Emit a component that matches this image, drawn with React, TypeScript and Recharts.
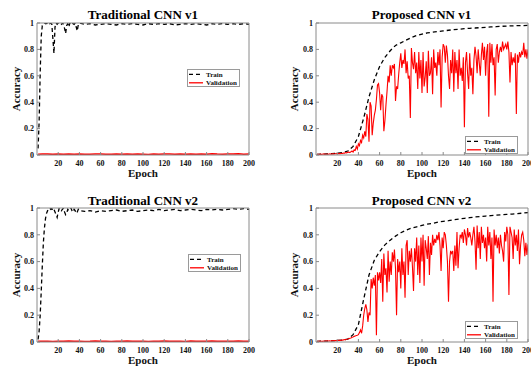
import React from 'react';
import { LineChart, Line, XAxis, YAxis, Legend } from 'recharts';

const FONT = "'Liberation Serif', 'Times New Roman', Times, serif";

// ---------- categories / ticks ----------
const epochs = Array.from({ length: 200 }, (_, i) => i + 1);
const sparseEpochs = [1, 5, 10, 15, 20, 25, 30, 35, 40, 45, 50, 55, 60, 65, 70, 75, 80, 85, 90, 95, 100,
  105, 110, 115, 120, 125, 130, 135, 140, 145, 150, 155, 160, 165, 170, 175, 180, 185, 190, 195, 200];
const lateEpochs = sparseEpochs.slice(9); // 45..200
const earlyEpochs = epochs.slice(0, 40); // 1..40
const xTicks = [20, 40, 60, 80, 100, 120, 140, 160, 180, 200];
const yTicks = [0, 0.2, 0.4, 0.6, 0.8, 1];

// ---------- Traditional CNN v1 ----------
const tradV1TrainEarly = [0.05, 0.25, 0.62, 0.9, 0.98, 0.99, 1.0, 0.995, 1.0, 0.99,
  1.0, 0.995, 1.0, 0.99, 0.88, 0.77, 0.97, 1.0, 0.99, 1.0,
  0.995, 1.0, 0.99, 1.0, 0.99, 0.96, 0.92, 0.98, 0.995, 0.97,
  1.0, 0.99, 1.0, 0.995, 0.99, 1.0, 0.97, 0.94, 0.99, 1.0];
const tradV1TrainLate = [0.99, 0.995, 0.985, 0.99, 0.995, 0.99, 0.985, 0.995, 0.99, 0.995,
  0.99, 0.985, 0.995, 0.99, 0.995, 0.99, 0.995, 0.985, 0.99, 0.995,
  0.99, 0.995, 0.99, 0.985, 0.995, 0.99, 0.995, 0.99, 0.995, 0.99, 0.995, 0.99];
const tradV1Val = [0.006, 0.008, 0.007, 0.005, 0.007, 0.006, 0.008, 0.006, 0.007, 0.005,
  0.006, 0.008, 0.007, 0.006, 0.005, 0.007, 0.006, 0.008, 0.005, 0.007,
  0.006, 0.004, 0.007, 0.006, 0.008, 0.007, 0.006, 0.007, 0.005, 0.008,
  0.006, 0.007, 0.006, 0.009, 0.007, 0.006, 0.008, 0.007, 0.009, 0.006, 0.007];

// ---------- Traditional CNN v2 ----------
const tradV2TrainEarly = [0.02, 0.08, 0.2, 0.38, 0.57, 0.74, 0.85, 0.92, 0.96, 0.98,
  0.99, 1.0, 0.99, 0.995, 0.98, 0.99, 0.97, 0.95, 0.93, 0.97,
  1.0, 0.99, 0.98, 0.99, 1.0, 0.97, 0.95, 0.96, 0.99, 0.98,
  0.99, 1.0, 0.98, 0.97, 0.99, 0.98, 0.96, 0.97, 0.99, 0.98];
const tradV2TrainLate = [0.975, 0.98, 0.97, 0.98, 0.975, 0.98, 0.985, 0.975, 0.98, 0.985,
  0.975, 0.98, 0.985, 0.98, 0.99, 0.98, 0.985, 0.99, 0.98, 0.985,
  0.99, 0.985, 0.98, 0.99, 0.985, 0.99, 0.985, 0.99, 0.995, 0.99, 0.995, 0.99];
const tradV2Val = [0.005, 0.006, 0.005, 0.004, 0.006, 0.005, 0.007, 0.005, 0.006, 0.004,
  0.005, 0.007, 0.006, 0.005, 0.004, 0.006, 0.005, 0.007, 0.005, 0.006,
  0.005, 0.004, 0.006, 0.005, 0.007, 0.006, 0.005, 0.006, 0.004, 0.007,
  0.005, 0.006, 0.005, 0.007, 0.006, 0.005, 0.006, 0.005, 0.007, 0.005, 0.006];

// ---------- Proposed CNN v1 ----------
const propV1Train = [0.005, 0.006, 0.008, 0.01, 0.013, 0.018, 0.03, 0.065, 0.14, 0.28,
  0.44, 0.57, 0.67, 0.74, 0.79, 0.83, 0.85, 0.87, 0.89, 0.905,
  0.915, 0.925, 0.93, 0.935, 0.94, 0.945, 0.95, 0.953, 0.957, 0.96,
  0.962, 0.965, 0.967, 0.97, 0.972, 0.975, 0.977, 0.978, 0.98, 0.98, 0.982];
const propV1Val = [
  0.005, 0.006, 0.004, 0.007, 0.005, 0.006, 0.008, 0.005, 0.007, 0.006,
  0.008, 0.006, 0.009, 0.007, 0.008, 0.010, 0.008, 0.009, 0.011, 0.009,
  0.010, 0.012, 0.010, 0.013, 0.012, 0.015, 0.014, 0.018, 0.016, 0.020,
  0.022, 0.018, 0.025, 0.030, 0.022, 0.040, 0.035, 0.065, 0.045, 0.085,
  0.07, 0.11, 0.095, 0.15, 0.13, 0.18, 0.14, 0.31, 0.27, 0.10,
  0.40, 0.37, 0.15, 0.24, 0.30, 0.34, 0.42, 0.53, 0.54, 0.47,
  0.34, 0.46, 0.44, 0.18, 0.26, 0.38, 0.48, 0.60, 0.55, 0.68,
  0.60, 0.68, 0.66, 0.69, 0.41, 0.52, 0.50, 0.61, 0.70, 0.77,
  0.66, 0.72, 0.69, 0.80, 0.62, 0.71, 0.58, 0.60, 0.28, 0.81,
  0.70, 0.65, 0.78, 0.62, 0.70, 0.50, 0.78, 0.58, 0.72, 0.47,
  0.78, 0.52, 0.59, 0.71, 0.47, 0.79, 0.60, 0.62, 0.74, 0.46,
  0.80, 0.66, 0.70, 0.60, 0.78, 0.68, 0.80, 0.36, 0.74, 0.84,
  0.82, 0.70, 0.83, 0.76, 0.60, 0.50, 0.72, 0.62, 0.80, 0.48,
  0.78, 0.62, 0.72, 0.50, 0.80, 0.60, 0.66, 0.56, 0.74, 0.21,
  0.70, 0.78, 0.62, 0.50, 0.77, 0.60, 0.66, 0.46, 0.72, 0.82,
  0.75, 0.62, 0.80, 0.70, 0.60, 0.76, 0.85, 0.72, 0.82, 0.60,
  0.78, 0.84, 0.29, 0.85, 0.70, 0.84, 0.68, 0.74, 0.45, 0.80,
  0.84, 0.70, 0.78, 0.82, 0.78, 0.86, 0.80, 0.82, 0.84, 0.80,
  0.86, 0.78, 0.55, 0.78, 0.68, 0.74, 0.70, 0.77, 0.31, 0.76,
  0.70, 0.78, 0.74, 0.78, 0.76, 0.85, 0.74, 0.80, 0.73, 0.80];

// ---------- Proposed CNN v2 ----------
const propV2Train = [0.005, 0.006, 0.007, 0.009, 0.011, 0.015, 0.022, 0.055, 0.13, 0.32,
  0.50, 0.61, 0.675, 0.725, 0.76, 0.79, 0.815, 0.835, 0.85, 0.86,
  0.87, 0.88, 0.885, 0.895, 0.90, 0.905, 0.912, 0.918, 0.923, 0.928,
  0.933, 0.936, 0.94, 0.943, 0.946, 0.949, 0.952, 0.955, 0.958, 0.962, 0.966];
const propV2Val = [
  0.005, 0.006, 0.005, 0.007, 0.006, 0.005, 0.007, 0.006, 0.008, 0.007,
  0.008, 0.007, 0.009, 0.008, 0.010, 0.009, 0.010, 0.011, 0.010, 0.012,
  0.012, 0.013, 0.012, 0.015, 0.014, 0.016, 0.018, 0.017, 0.020, 0.022,
  0.025, 0.028, 0.030, 0.035, 0.038, 0.042, 0.045, 0.048, 0.050, 0.055,
  0.07, 0.09, 0.065, 0.12, 0.20, 0.25, 0.28, 0.24, 0.15, 0.22,
  0.20, 0.47, 0.40, 0.48, 0.42, 0.50, 0.05, 0.52, 0.46, 0.52,
  0.44, 0.62, 0.30, 0.66, 0.50, 0.55, 0.37, 0.68, 0.45, 0.60,
  0.50, 0.67, 0.60, 0.69, 0.55, 0.20, 0.62, 0.52, 0.60, 0.40,
  0.70, 0.50, 0.60, 0.33, 0.72, 0.76, 0.50, 0.68, 0.60, 0.70,
  0.56, 0.38, 0.70, 0.60, 0.78, 0.50, 0.72, 0.44, 0.78, 0.60,
  0.80, 0.42, 0.76, 0.70, 0.62, 0.79, 0.50, 0.74, 0.65, 0.80,
  0.72, 0.77, 0.74, 0.80, 0.76, 0.82, 0.72, 0.53, 0.78, 0.70,
  0.82, 0.80, 0.72, 0.60, 0.30, 0.60, 0.68, 0.66, 0.68, 0.53,
  0.72, 0.57, 0.82, 0.55, 0.70, 0.80, 0.78, 0.82, 0.74, 0.84,
  0.80, 0.72, 0.85, 0.78, 0.82, 0.78, 0.72, 0.80, 0.86, 0.75,
  0.54, 0.87, 0.70, 0.82, 0.62, 0.86, 0.74, 0.80, 0.70, 0.78,
  0.60, 0.86, 0.72, 0.82, 0.62, 0.78, 0.30, 0.84, 0.72, 0.80,
  0.70, 0.78, 0.66, 0.80, 0.72, 0.68, 0.60, 0.82, 0.75, 0.86,
  0.80, 0.35, 0.86, 0.82, 0.78, 0.62, 0.84, 0.72, 0.80, 0.68,
  0.84, 0.58, 0.72, 0.80, 0.82, 0.76, 0.64, 0.74, 0.65, 0.73];

const toPoints = (xs: number[], ys: number[]) => xs.map((x, i) => ({ epoch: x, value: ys[i] }));

const AXIS = '#8a8a8a';
const TXT = '#111';

const LegendBox = (props: any) => {
  const payload = props.payload || [];
  return (
    <svg width={53} height={18} style={{ display: 'block' }}>
      <rect x={0.5} y={0.5} width={52} height={17} fill="#fff" stroke="#9a9a9a" strokeWidth={1} />
      {payload.map((entry: any, i: number) => {
        const cy = 5.4 + i * 8.4;
        const dash = entry.payload && entry.payload.strokeDasharray;
        return (
          <g key={i}>
            <line x1={2} x2={dash ? 13 : 16} y1={cy} y2={cy} stroke={entry.color}
              strokeWidth={1.3} strokeDasharray={dash} />
            <text x={19} y={cy + 2.4} fontSize={7} fontWeight="bold" fontFamily={FONT} fill={TXT}>
              {entry.value}
            </text>
          </g>
        );
      })}
    </svg>
  );
};

type PanelProps = {
  left: number; top: number; width: number; height: number;
  plotLeft: number; plotTop: number; plotRight: number; plotBottom: number;
  train: { epoch: number; value: number }[];
  val: { epoch: number; value: number }[];
  valWidth: number;
  legendLeft: number; legendTop: number;
  yLabelOffset: number; xLabelOffset: number;
};

function Panel(p: PanelProps) {
  const tickStyle = { fontSize: 8, fontFamily: FONT, fontWeight: 'bold', fill: TXT };
  const labelStyle = { fontSize: 11, fontFamily: FONT, fontWeight: 'bold', fill: TXT };
  return (
    <div style={{ position: 'absolute', left: p.left, top: p.top }}>
      <LineChart
        width={p.width}
        height={p.height}
        margin={{ top: p.plotTop - 1, right: p.width - p.plotRight - 1, bottom: 0, left: 0 }}
      >
        <XAxis
          dataKey="epoch" type="number" domain={[0, 200]} ticks={xTicks} allowDataOverflow
          height={p.height - p.plotBottom} tickSize={-3} tickMargin={8}
          stroke={AXIS} tickLine={{ stroke: AXIS }} tick={tickStyle} interval={0}
          label={{ value: 'Epoch', position: 'insideBottom', offset: p.xLabelOffset, style: labelStyle }}
        />
        <XAxis
          xAxisId="top" orientation="top" dataKey="epoch" type="number" domain={[0, 200]}
          ticks={xTicks} allowDataOverflow height={1} tickSize={-3} tick={false}
          stroke={AXIS} tickLine={{ stroke: AXIS }} interval={0}
        />
        <YAxis
          type="number" domain={[0, 1]} ticks={yTicks} allowDataOverflow width={p.plotLeft}
          tickSize={-3} tickMargin={6} stroke={AXIS} tickLine={{ stroke: AXIS }} tick={tickStyle} interval={0}
          label={{
            value: 'Accuracy', angle: -90, position: 'insideLeft', offset: p.yLabelOffset,
            style: { ...labelStyle, textAnchor: 'middle' },
          }}
        />
        <YAxis
          yAxisId="right" orientation="right" type="number" domain={[0, 1]} ticks={yTicks}
          allowDataOverflow width={1} tickSize={-3} tick={false}
          stroke={AXIS} tickLine={{ stroke: AXIS }} interval={0}
        />
        <Line
          data={p.train} dataKey="value" name="Train" type="linear" stroke="#000"
          strokeWidth={1.3} strokeDasharray="4 3" dot={false} activeDot={false}
          isAnimationActive={false}
        />
        <Line
          data={p.val} dataKey="value" name="Validation" type="linear" stroke="#ff0000"
          strokeWidth={p.valWidth} dot={false} activeDot={false} isAnimationActive={false}
        />
        <Legend
          layout="vertical" align="center" verticalAlign="middle"
          content={LegendBox}
          wrapperStyle={{ position: 'absolute', left: p.legendLeft, top: p.legendTop, width: 53, height: 18 }}
        />
      </LineChart>
    </div>
  );
}

const titles = [
  { text: 'Traditional CNN v1', x: 143, y: 19 },
  { text: 'Proposed CNN v1', x: 421.5, y: 19 },
  { text: 'Traditional CNN v2', x: 143, y: 204.5 },
  { text: 'Proposed CNN v2', x: 421.5, y: 204.5 },
];

export default function App() {
  return (
    <div style={{ position: 'absolute', left: 0, top: 0, width: 531, height: 369, background: '#fff', overflow: 'hidden' }}>
      <Panel
        left={0} top={0} width={265} height={185}
        plotLeft={37} plotTop={23} plotRight={249} plotBottom={155}
        train={[...toPoints(earlyEpochs, tradV1TrainEarly), ...toPoints(lateEpochs, tradV1TrainLate)]}
        val={toPoints(sparseEpochs, tradV1Val)} valWidth={1.5}
        legendLeft={187} legendTop={69} yLabelOffset={16.5} xLabelOffset={8}
      />
      <Panel
        left={265} top={0} width={266} height={185}
        plotLeft={51} plotTop={23} plotRight={263} plotBottom={155}
        train={toPoints(sparseEpochs, propV1Train)}
        val={toPoints(epochs, propV1Val)} valWidth={1.1}
        legendLeft={200} legendTop={136} yLabelOffset={29.5} xLabelOffset={8}
      />
      <Panel
        left={0} top={185} width={265} height={184}
        plotLeft={37} plotTop={23} plotRight={249} plotBottom={157}
        train={[...toPoints(earlyEpochs, tradV2TrainEarly), ...toPoints(lateEpochs, tradV2TrainLate)]}
        val={toPoints(sparseEpochs, tradV2Val)} valWidth={1.5}
        legendLeft={187.5} legendTop={69} yLabelOffset={16.5} xLabelOffset={5}
      />
      <Panel
        left={265} top={185} width={266} height={184}
        plotLeft={51} plotTop={23} plotRight={263} plotBottom={157}
        train={toPoints(sparseEpochs, propV2Train)}
        val={toPoints(epochs, propV2Val)} valWidth={1.1}
        legendLeft={200} legendTop={136} yLabelOffset={29.5} xLabelOffset={5}
      />
      <svg width={531} height={369} style={{ position: 'absolute', left: 0, top: 0, pointerEvents: 'none' }}>
        {titles.map((t) => (
          <text key={t.text} x={t.x} y={t.y} textAnchor="middle" fontSize={13} fontWeight="bold"
            fontFamily={FONT} fill="#000">
            {t.text}
          </text>
        ))}
      </svg>
    </div>
  );
}
